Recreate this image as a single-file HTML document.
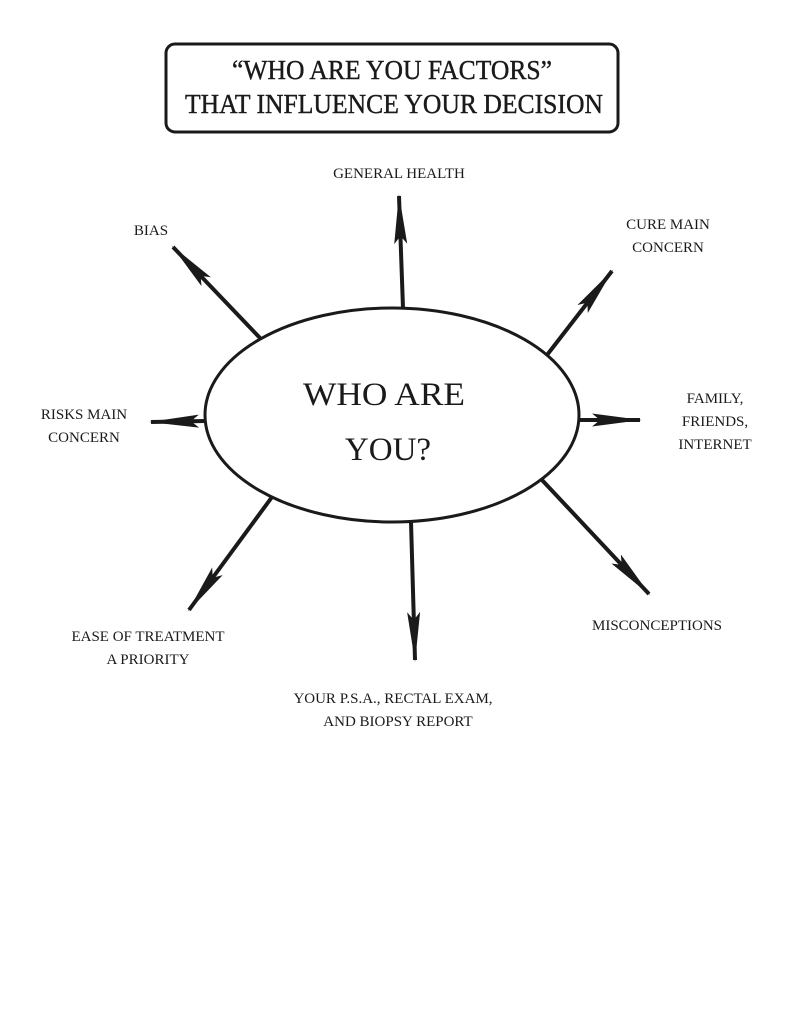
<!DOCTYPE html>
<html><head><meta charset="utf-8"><style>
html,body{margin:0;padding:0;background:#fff;}
svg{display:block;}
text{font-family:"Liberation Serif",serif;fill:#1a1a1a;}
</style></head><body>
<svg width="791" height="1024" viewBox="0 0 791 1024" xmlns="http://www.w3.org/2000/svg">
<defs>
<marker id="a" markerUnits="userSpaceOnUse" viewBox="0 0 50 16" refX="48" refY="8" markerWidth="50" markerHeight="16" orient="auto">
<path d="M0,1.5 L50,8 L0,14.5 L8,8 Z" fill="#1a1a1a"/>
</marker>
</defs>
<rect x="166" y="44" width="452" height="88" rx="9" fill="none" stroke="#1a1a1a" stroke-width="3"/>
<text x="392" y="79" font-size="27" text-anchor="middle" textLength="320" lengthAdjust="spacingAndGlyphs" stroke="#1a1a1a" stroke-width="0.4">“WHO ARE YOU FACTORS”</text>
<text x="394" y="113" font-size="27" text-anchor="middle" textLength="418" lengthAdjust="spacingAndGlyphs" stroke="#1a1a1a" stroke-width="0.4">THAT INFLUENCE YOUR DECISION</text>

<g stroke="#1a1a1a" stroke-width="4" fill="none" marker-end="url(#a)">
<line x1="403" y1="308" x2="399" y2="196"/>
<line x1="260" y1="338" x2="173" y2="247"/>
<line x1="547" y1="355" x2="612" y2="271"/>
<line x1="205" y1="421" x2="151" y2="422"/>
<line x1="578" y1="420" x2="640" y2="420"/>
<line x1="542" y1="480" x2="649" y2="594"/>
<line x1="411" y1="522" x2="415" y2="660"/>
<line x1="272" y1="497" x2="189" y2="610"/>
</g>
<ellipse cx="392" cy="415" rx="187" ry="107" fill="#fff" stroke="#1a1a1a" stroke-width="3"/>
<text x="384" y="405" font-size="33" text-anchor="middle" textLength="162" lengthAdjust="spacingAndGlyphs">WHO ARE</text>
<text x="388" y="460" font-size="33" text-anchor="middle">YOU?</text>

<g font-size="15" text-anchor="middle">
<text x="399" y="178">GENERAL HEALTH</text>
<text x="151" y="235">BIAS</text>
<text x="668" y="229">CURE MAIN</text>
<text x="668" y="252">CONCERN</text>
<text x="84" y="419">RISKS MAIN</text>
<text x="84" y="442">CONCERN</text>
<text x="715" y="403">FAMILY,</text>
<text x="715" y="426">FRIENDS,</text>
<text x="715" y="449">INTERNET</text>
<text x="657" y="630">MISCONCEPTIONS</text>
<text x="148" y="641">EASE OF TREATMENT</text>
<text x="148" y="664">A PRIORITY</text>
<text x="393" y="703">YOUR P.S.A., RECTAL EXAM,</text>
<text x="398" y="726">AND BIOPSY REPORT</text>
</g>
</svg>
</body></html>
